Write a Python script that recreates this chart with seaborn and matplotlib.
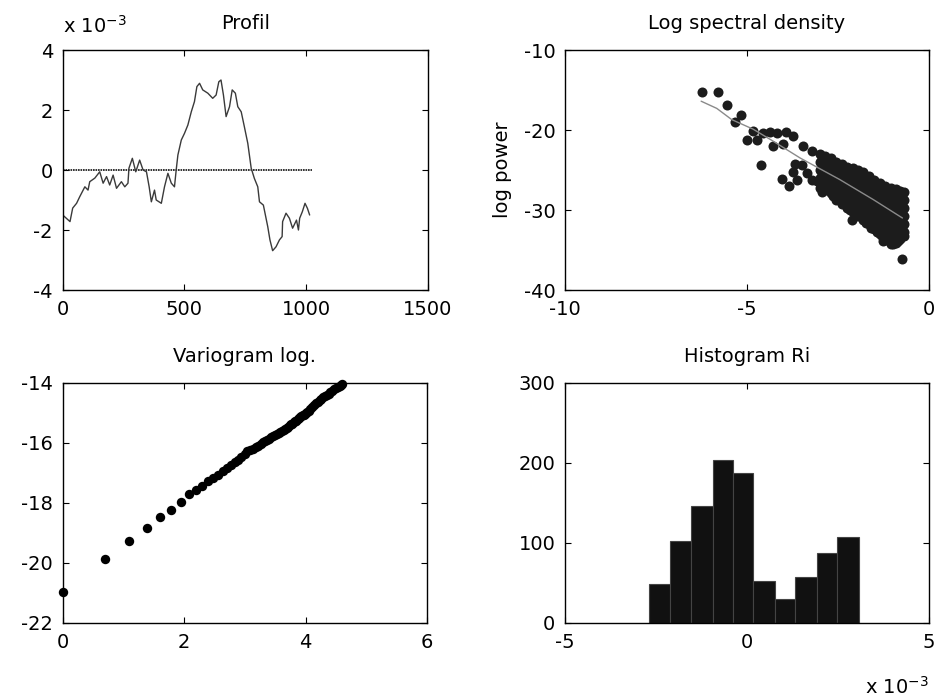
import matplotlib
matplotlib.use("Agg")
import matplotlib.pyplot as plt
import seaborn as sns
import numpy as np
import pandas as pd

# ---------------- data ----------------
# Profil (y in units of 1e-3)
prof_x = [0, 30, 41, 57, 70, 91, 104, 111, 132, 152, 166, 180, 193, 207, 221, 241, 255, 268,
          272, 286, 300, 316, 330, 344, 355, 364, 377, 384, 405, 418, 432, 446, 459, 466, 473,
          487, 500, 514, 528, 541, 551, 562, 575, 596, 616, 630, 641, 650, 660, 671, 685, 696,
          709, 719, 733, 746, 760, 774, 787, 801, 808, 824, 842, 851, 862, 876, 890, 901, 903,
          917, 931, 944, 960, 968, 973, 984, 995, 1005, 1014]
prof_y = [-1.50, -1.72, -1.27, -1.11, -0.89, -0.56, -0.67, -0.39, -0.27, -0.06, -0.44, -0.22,
          -0.50, -0.17, -0.61, -0.39, -0.56, -0.44, 0.06, 0.39, -0.06, 0.33, 0.00, -0.06, -0.56,
          -1.06, -0.67, -1.00, -1.11, -0.56, -0.11, -0.44, -0.56, 0.00, 0.50, 1.00, 1.22, 1.50,
          1.94, 2.28, 2.78, 2.89, 2.67, 2.56, 2.39, 2.50, 2.94, 3.00, 2.50, 1.78, 2.11, 2.67,
          2.56, 2.11, 1.94, 1.44, 0.89, 0.06, -0.28, -0.56, -1.06, -1.17, -1.89, -2.33, -2.69,
          -2.56, -2.33, -2.22, -1.72, -1.44, -1.61, -1.94, -1.67, -2.00, -1.61, -1.39, -1.11,
          -1.28, -1.50]
zero_x = [0, 1024]
zero_y = [0, 0]

# Log spectral density: isolated points
spec_sparse_x = [-6.25, -5.81, -5.54, -5.16, -5.32, -4.83, -4.99, -4.72, -4.57, -4.37, -4.18,
                 -3.94, -3.73, -4.28, -4.00, -4.62, -4.05, -3.84, -3.62, -3.45, -3.22, -3.68,
                 -3.73, -3.36, -3.22, -2.95, -0.75, -2.12, -1.26, -0.98, -3.50, -3.09]
spec_sparse_y = [-15.3, -15.3, -16.9, -18.1, -19.0, -20.1, -21.3, -21.3, -20.4, -20.3, -20.4,
                 -20.3, -20.8, -22.0, -21.8, -24.4, -26.1, -27.0, -26.3, -22.0, -22.6, -24.3,
                 -25.2, -25.4, -26.2, -27.7, -36.1, -31.2, -33.9, -34.2, -24.4, -26.4]
# Log spectral density: dense cloud, read column by column (x: list of y)
spec_cloud = {
    -3.00: [-23.0, -24.0, -25.0, -26.0, -27.2],
    -2.93: [-23.6, -24.6, -25.6, -26.7],
    -2.85: [-23.3, -24.3, -25.3, -26.4, -27.5],
    -2.78: [-23.9, -24.9, -25.9, -27.0],
    -2.70: [-23.5, -24.6, -25.6, -26.7, -27.9],
    -2.63: [-24.2, -25.2, -26.2, -27.3, -28.2],
    -2.55: [-24.0, -25.0, -26.0, -27.0, -28.0, -28.7],
    -2.48: [-24.6, -25.6, -26.6, -27.6, -28.6],
    -2.40: [-24.3, -25.3, -26.3, -27.3, -28.3, -29.2],
    -2.33: [-25.0, -26.0, -27.0, -28.0, -29.0],
    -2.25: [-24.6, -25.6, -26.6, -27.6, -28.6, -29.7],
    -2.18: [-25.2, -26.2, -27.2, -28.2, -29.2, -30.0],
    -2.10: [-24.8, -25.8, -26.8, -27.8, -28.8, -29.8, -30.3],
    -2.03: [-25.4, -26.4, -27.4, -28.4, -29.4, -30.4],
    -1.95: [-25.0, -26.0, -27.0, -28.0, -29.0, -30.0, -30.8],
    -1.88: [-25.7, -26.7, -27.7, -28.7, -29.7, -30.7],
    -1.80: [-25.3, -26.3, -27.3, -28.3, -29.3, -30.3, -31.3],
    -1.73: [-26.0, -27.0, -28.0, -29.0, -30.0, -31.0, -31.6],
    -1.65: [-25.8, -26.8, -27.8, -28.8, -29.8, -30.8, -31.8],
    -1.58: [-26.5, -27.5, -28.5, -29.5, -30.5, -31.5, -32.2],
    -1.50: [-26.3, -27.3, -28.3, -29.3, -30.3, -31.3, -32.4],
    -1.43: [-26.9, -27.9, -28.9, -29.9, -30.9, -31.9, -32.8],
    -1.35: [-26.6, -27.6, -28.6, -29.6, -30.6, -31.6, -32.6, -33.0],
    -1.28: [-27.2, -28.2, -29.2, -30.2, -31.2, -32.2, -33.2],
    -1.20: [-27.0, -28.0, -29.0, -30.0, -31.0, -32.0, -33.0, -33.8],
    -1.13: [-27.6, -28.6, -29.6, -30.6, -31.6, -32.6, -33.6],
    -1.05: [-27.2, -28.2, -29.2, -30.2, -31.2, -32.2, -33.2, -34.2],
    -0.99: [-27.8, -28.8, -29.8, -30.8, -31.8, -32.8, -33.8],
    -0.92: [-27.4, -28.4, -29.4, -30.4, -31.4, -32.4, -33.4, -34.1],
    -0.86: [-28.0, -29.0, -30.0, -31.0, -32.0, -33.0, -33.9],
    -0.80: [-27.6, -28.6, -29.6, -30.6, -31.6, -32.6, -33.6],
    -0.75: [-28.1, -29.1, -30.1, -31.1, -32.1, -33.1],
    -0.69: [-27.7, -28.7, -29.7, -30.7, -31.7, -32.7, -33.3],
}
# fitted line
fit_x = [-6.26, -5.83, -5.42, -4.83, -4.28, -3.54, -2.45, -1.53, -0.73]
fit_y = [-16.4, -17.3, -18.7, -19.9, -21.4, -23.5, -26.2, -28.7, -31.0]

# Variogram log.
vario_x = [0.00, 0.69, 1.10, 1.39, 1.61, 1.79, 1.95, 2.08, 2.20,
           2.30, 2.40, 2.48, 2.56, 2.64, 2.71, 2.77, 2.83, 2.89, 2.94, 3.00, 3.04, 3.09, 3.14,
           3.18, 3.22, 3.26, 3.30, 3.33, 3.37, 3.40, 3.43, 3.47, 3.50, 3.53, 3.56, 3.58, 3.61,
           3.64, 3.66, 3.69, 3.71, 3.74, 3.76, 3.78, 3.81, 3.83, 3.85, 3.87, 3.89, 3.91, 3.93,
           3.95, 3.97, 3.99, 4.01, 4.03, 4.05, 4.08, 4.11, 4.14, 4.17, 4.20, 4.23, 4.26, 4.29,
           4.32, 4.35, 4.38, 4.41, 4.44, 4.47, 4.50, 4.53, 4.56, 4.59, 4.605]
vario_y = [-20.97, -19.86, -19.27, -18.83, -18.46, -18.22, -17.97, -17.71, -17.57,
           -17.42, -17.28, -17.17, -17.05, -16.93, -16.82, -16.73, -16.65, -16.57, -16.46,
           -16.35, -16.28, -16.24, -16.20, -16.15, -16.10, -16.03, -15.97, -15.93, -15.90,
           -15.85, -15.81, -15.77, -15.74, -15.71, -15.66, -15.62, -15.59, -15.55, -15.52,
           -15.49, -15.45, -15.41, -15.38, -15.35, -15.31, -15.28, -15.25, -15.21, -15.17,
           -15.13, -15.10, -15.07, -15.05, -15.02, -14.99, -14.96, -14.92, -14.86, -14.80,
           -14.74, -14.68, -14.63, -14.57, -14.52, -14.48, -14.43, -14.39, -14.35, -14.30,
           -14.25, -14.21, -14.17, -14.13, -14.09, -14.05, -14.03]

# Histogram Ri (x in units of 1e-3)
hist_edges = [-2.69, -2.12, -1.54, -0.94, -0.39, 0.17, 0.77, 1.32, 1.92, 2.47, 3.08]
hist_counts = [49, 103, 146, 204, 187, 52, 30, 57, 87, 108]

# ---------------- style ----------------
sns.set_style("ticks")
plt.rcParams["font.family"] = ["DejaVu Sans"]
plt.rcParams["axes.unicode_minus"] = False
FS = 14
plt.rcParams.update({
    "font.size": FS,
    "text.color": "black",
    "axes.labelcolor": "black",
    "axes.titlecolor": "black",
    "axes.linewidth": 1.0,
    "axes.edgecolor": "black",
    "xtick.direction": "in",
    "ytick.direction": "in",
    "xtick.top": True,
    "ytick.right": True,
    "xtick.major.size": 4,
    "ytick.major.size": 4,
    "xtick.major.pad": 7,
    "ytick.major.pad": 7,
    "xtick.labelsize": FS,
    "ytick.labelsize": FS,
    "xtick.color": "black",
    "ytick.color": "black",
    "xtick.labelcolor": "black",
    "ytick.labelcolor": "black",
})

fig = plt.figure(figsize=(9.35, 7.0), dpi=100)
W, H = 935.0, 700.0
def make_ax(l, r, t, b):
    return fig.add_axes([l / W, 1 - b / H, (r - l) / W, (b - t) / H])

ax1 = make_ax(62.7, 428, 50, 290)
ax2 = make_ax(565, 929, 50, 290)
ax3 = make_ax(62.7, 427, 383, 623)
ax4 = make_ax(565, 929, 383, 623)

TPAD = 15

# Profil
sns.lineplot(x=zero_x, y=zero_y, ax=ax1, color="#111111", lw=1.2,
             linestyle=(0, (1, 0.5)), estimator=None, sort=False)
sns.lineplot(x=prof_x, y=prof_y, ax=ax1, color="#3a3a3a", lw=1.0, estimator=None, sort=False)
ax1.set_xlim(0, 1500)
ax1.set_ylim(-4, 4)
ax1.set_xticks([0, 500, 1000, 1500])
ax1.set_yticks([-4, -2, 0, 2, 4])
ax1.set_title("Profil", fontsize=FS, pad=TPAD, color="black")
ax1.text(0.0, 1.055, r"x 10$^{\mathregular{-3}}$", transform=ax1.transAxes,
         fontsize=FS, ha="left", va="bottom", color="black")

# Log spectral density
cloud_x = [x for x, ys in spec_cloud.items() for _ in ys]
cloud_y = [y for ys in spec_cloud.values() for y in ys]
sdf = pd.DataFrame({"x": spec_sparse_x + cloud_x, "y": spec_sparse_y + cloud_y})
sns.scatterplot(data=sdf, x="x", y="y", ax=ax2, color="#1c1c1c", s=52, linewidth=0,
                clip_on=False, zorder=2)
sns.lineplot(x=fit_x, y=fit_y, ax=ax2, color="#8a8a8a", lw=1.0, estimator=None,
             sort=False, zorder=3)
ax2.set_xlim(-10, 0)
ax2.set_ylim(-40, -10)
ax2.set_xticks([-10, -5, 0])
ax2.set_yticks([-40, -30, -20, -10])
ax2.set_title("Log spectral density", fontsize=FS, pad=TPAD, color="black")
ax2.set_ylabel("log power", fontsize=FS, labelpad=8)

# Variogram log.
sns.scatterplot(x=vario_x, y=vario_y, ax=ax3, color="black", s=46, linewidth=0,
                clip_on=False, zorder=3)
ax3.set_xlim(0, 6)
ax3.set_ylim(-22, -14)
ax3.set_xticks([0, 2, 4, 6])
ax3.set_yticks([-22, -20, -18, -16, -14])
ax3.set_title("Variogram log.", fontsize=FS, pad=TPAD, color="black")

# Histogram Ri
centers = [(a + b) / 2 for a, b in zip(hist_edges[:-1], hist_edges[1:])]
hdf = pd.DataFrame({"x": centers, "w": hist_counts})
sns.histplot(data=hdf, x="x", weights="w", bins=hist_edges, ax=ax4,
             color="#111111", alpha=1.0, edgecolor="#444444", linewidth=0.8)
ax4.set_xlim(-5, 5)
ax4.set_ylim(0, 300)
ax4.set_xticks([-5, 0, 5])
ax4.set_yticks([0, 100, 200, 300])
ax4.set_title("Histogram Ri", fontsize=FS, pad=TPAD, color="black")
ax4.text(1.0, -0.22, r"x 10$^{\mathregular{-3}}$", transform=ax4.transAxes,
         fontsize=FS, ha="right", va="top", color="black")

for ax in (ax1, ax2, ax3, ax4):
    for sp in ax.spines.values():
        sp.set_visible(True)
        sp.set_color("black")
    ax.tick_params(which="both", direction="in", top=True, right=True)
    if ax is not ax2:
        ax.set_ylabel("")
    ax.set_xlabel("")

fig.savefig("out.png", dpi=100)
